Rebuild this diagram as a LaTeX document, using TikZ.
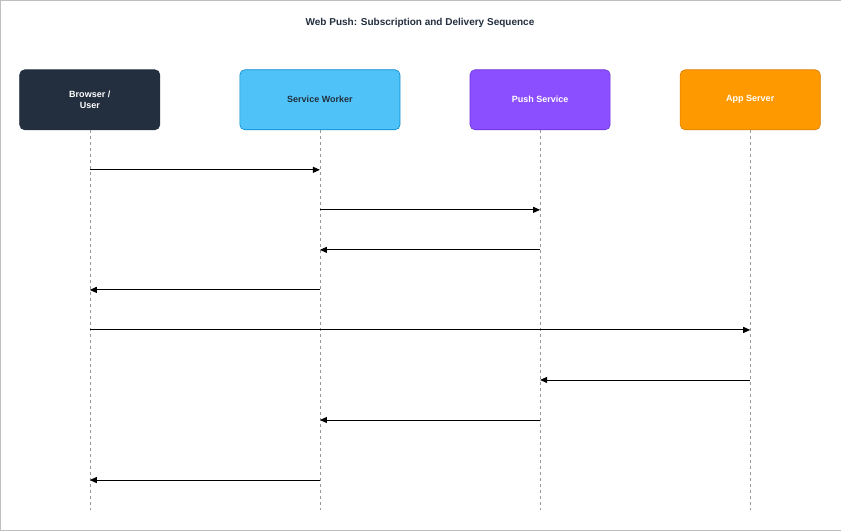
\documentclass[tikz,border=0pt]{standalone}
\usepackage{fontspec}
\setmainfont{Liberation Sans}
\usetikzlibrary{arrows.meta}
\definecolor{navy}{HTML}{232F3E}
\definecolor{sky}{HTML}{4FC3F7}
\definecolor{skyb}{HTML}{0288D1}
\definecolor{purp}{HTML}{8C4FFF}
\definecolor{purpb}{HTML}{6A2FD9}
\definecolor{orng}{HTML}{FF9900}
\definecolor{orngb}{HTML}{D97E00}
\begin{document}
\begin{tikzpicture}[x=1pt,y=-1pt,
  actor/.style={draw,rounded corners=5pt,minimum height=60pt,font=\bfseries\fontsize{9}{11}\selectfont,align=center,line width=0.6pt},
  life/.style={draw=gray!80,dashed,line width=0.5pt},
  msg/.style={draw=black,line width=0.9pt,-{Triangle[length=7pt,width=6pt]}}]
\draw[draw=gray!50,fill=white] (0.5,0.5) rectangle (840.5,530.5);
\node[font=\bfseries\fontsize{10}{12}\selectfont,text=navy] (title) at (420,23) {Web Push: Subscription and Delivery Sequence};
\node[actor,fill=navy,draw=navy,text=white,minimum width=140pt] (b) at (90,100) {Browser /\\User};
\node[actor,fill=sky,draw=skyb,text=navy,minimum width=160pt] (s) at (320,100) {Service Worker};
\node[actor,fill=purp,draw=purpb,text=white,minimum width=140pt] (p) at (540,100) {Push Service};
\node[actor,fill=orng,draw=orngb,text=white,minimum width=140pt] (a) at (750,100) {App Server};
\foreach \n/\x in {b/90,s/320,p/540,a/750}{
  \coordinate (\n e) at (\x,510);
  \draw[life] (\n.south) -- (\n e);
}
\foreach \f/\t/\y in {b/s/170,s/p/210,p/s/250,s/b/290,b/a/330,a/p/380,p/s/420,s/b/480}{
  \coordinate (f\y) at (\f e|-0,\y);
  \coordinate (t\y) at (\t e|-0,\y);
  \draw[msg] (f\y) -- (t\y);
}
\end{tikzpicture}
\end{document}
